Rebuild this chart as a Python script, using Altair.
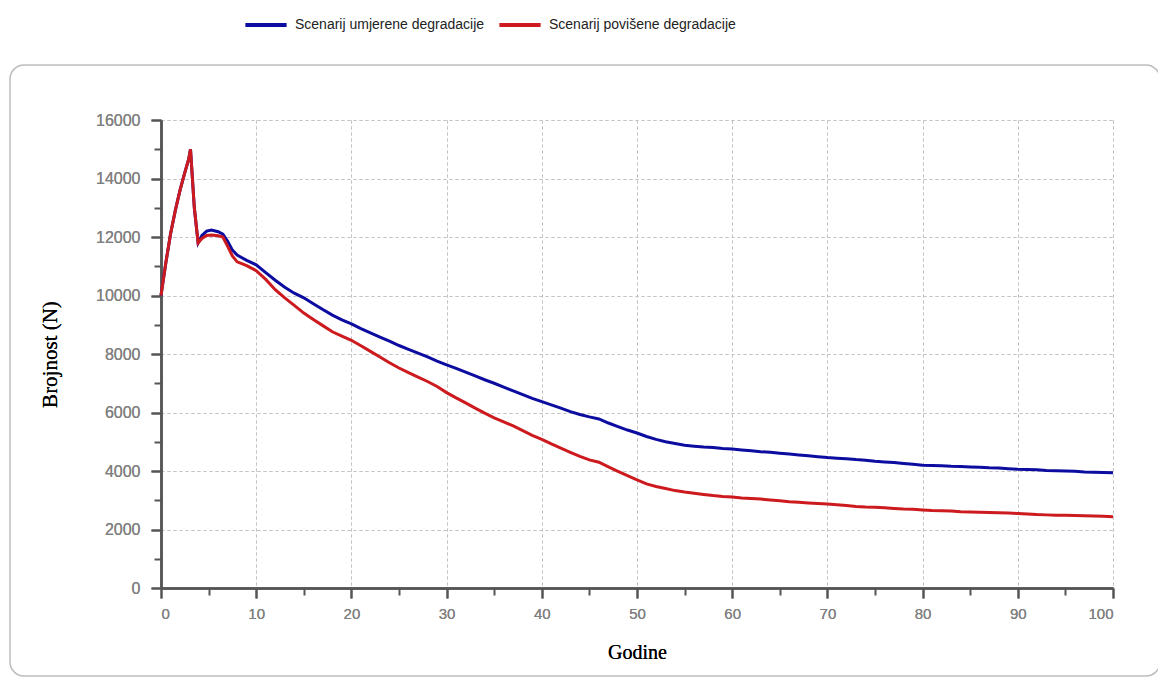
import altair as alt
import pandas as pd

years = [0, 0.5, 1, 1.5, 2, 2.5, 2.9, 3.1, 3.5, 3.9, 4.3, 4.8, 5.3, 6, 6.5, 7, 7.5, 8] + list(range(9, 101))

umjerene = [10000, 11100, 12100, 12900, 13600, 14200, 14650, 15000, 13000, 11800, 12050, 12200, 12240, 12180, 12100, 11850, 11550, 11380,
            11200, 11050, 10780, 10520, 10280, 10080, 9920, 9720, 9520, 9330, 9170, 9030,
            8870, 8720, 8580, 8440, 8290, 8160, 8030, 7900, 7760, 7630,
            7510, 7380, 7250, 7120, 7000, 6870, 6740, 6610, 6480, 6370,
            6260, 6150, 6030, 5930, 5850, 5780, 5640, 5520, 5400, 5300,
            5180, 5080, 5000, 4940, 4880, 4850, 4820, 4800, 4770, 4750,
            4720, 4690, 4660, 4640, 4610, 4580, 4550, 4520, 4490, 4460,
            4440, 4420, 4390, 4370, 4330, 4310, 4290, 4260, 4230, 4200,
            4190, 4180, 4160, 4150, 4140, 4130, 4110, 4100, 4080, 4060,
            4050, 4040, 4020, 4010, 4000, 3990, 3970, 3960, 3950, 3940]

povisene = [10000, 11100, 12100, 12900, 13600, 14200, 14650, 15000, 13000, 11800, 11950, 12050, 12070, 12040, 12000, 11680, 11350, 11150,
            11020, 10850, 10550, 10200, 9920, 9660, 9400, 9180, 8970, 8760, 8610, 8470,
            8280, 8090, 7900, 7700, 7520, 7360, 7210, 7060, 6890, 6680,
            6500, 6330, 6150, 5980, 5820, 5680, 5540, 5380, 5220, 5080,
            4930, 4780, 4640, 4500, 4380, 4300, 4140, 3990, 3840, 3700,
            3560, 3470, 3400, 3330, 3280, 3240, 3200, 3160, 3130, 3110,
            3080, 3060, 3040, 3010, 2980, 2950, 2930, 2910, 2890, 2870,
            2850, 2820, 2790, 2770, 2760, 2740, 2720, 2700, 2690, 2670,
            2650, 2640, 2630, 2610, 2600, 2590, 2580, 2570, 2560, 2550,
            2530, 2510, 2500, 2490, 2490, 2480, 2470, 2460, 2450, 2440]

series_names = ["Scenarij umjerene degradacije", "Scenarij povišene degradacije"]
series_colors = ["#0c0ca0", "#cc1a1e"]

x_major = list(range(0, 101, 10))
x_minor = list(range(5, 100, 10))
y_major = list(range(0, 16001, 2000))
y_minor = list(range(1000, 16000, 2000))

df_b = pd.DataFrame({"Godine": years, "N": umjerene, "Scenarij": series_names[0]})
df_r = pd.DataFrame({"Godine": years, "N": povisene, "Scenarij": series_names[1]})

xscale = alt.Scale(domain=[0, 100], nice=False, zero=False)
yscale = alt.Scale(domain=[0, 16000], nice=False)
color = alt.Color(
    "Scenarij:N",
    scale=alt.Scale(domain=series_names, range=series_colors),
    legend=alt.Legend(
        title=None, orient="none", legendX=82, legendY=-118, direction="horizontal",
        symbolType="stroke", symbolStrokeWidth=4, symbolSize=1700,
        labelFont="Liberation Sans", labelFontSize=14, labelColor="#222", labelLimit=400,
        columnPadding=6, labelOffset=6,
    ),
)

x_main = alt.X("Godine:Q", scale=xscale, axis=alt.Axis(
    values=x_major, title="Godine", orient="bottom", format="d",
    labelFont="Liberation Sans", labelFontSize=15, labelColor="#808080", labelPadding=8,
    tickSize=10, tickColor="#555", tickWidth=2, domainColor="#555", domainWidth=2.5,
    grid=True, gridColor="#c4c4c4", gridDash=[3, 3], gridWidth=1,
    titleFont="Liberation Serif", titleFontSize=20, titleFontWeight="normal", titleColor="#000", titlePadding=21,
))
y_main = alt.Y("N:Q", scale=yscale, axis=alt.Axis(
    values=y_major, title="Brojnost (N)", orient="left", format="d",
    labelFont="Liberation Sans", labelFontSize=16, labelColor="#808080", labelPadding=11,
    tickSize=10, tickColor="#555", tickWidth=2, domainColor="#555", domainWidth=2.5,
    grid=True, gridColor="#c4c4c4", gridDash=[3, 3], gridWidth=1,
    titleFont="Liberation Serif", titleFontSize=21, titleFontWeight="normal", titleColor="#000", titlePadding=35,
))

frame = alt.Chart(alt.Data(values=[{"a": 1}])).mark_rect(
    filled=False, stroke="#bdbdbd", strokeWidth=1.5, cornerRadius=14, clip=False
).encode(x=alt.value(-151), x2=alt.value(999), y=alt.value(-55), y2=alt.value(556))

minor = alt.Chart(df_b).mark_point(opacity=0).encode(
    x=alt.X("Godine:Q", scale=xscale, axis=alt.Axis(
        values=x_minor, labels=False, title=None, grid=False, domain=False, orient="bottom",
        tickSize=7, tickColor="#555", tickWidth=2)),
    y=alt.Y("N:Q", scale=yscale, axis=alt.Axis(
        values=y_minor, labels=False, title=None, grid=False, domain=False, orient="left",
        tickSize=7, tickColor="#555", tickWidth=2)),
)

line_b = alt.Chart(df_b).mark_line(strokeWidth=3).encode(x=x_main, y=y_main, color=color)
line_r = alt.Chart(df_r).mark_line(strokeWidth=3).encode(x=x_main, y=y_main, color=color)

chart = alt.layer(frame, line_b, line_r, minor).resolve_axis(x="independent", y="independent").properties(
    width=952, height=468,
    autosize=alt.AutoSizeParams(type="none"),
    padding={"left": 153, "top": 112, "right": 45, "bottom": 90},
    background="white",
).configure_view(stroke=None)

chart.save("out.html", embed_options={"renderer": "svg", "actions": False})
